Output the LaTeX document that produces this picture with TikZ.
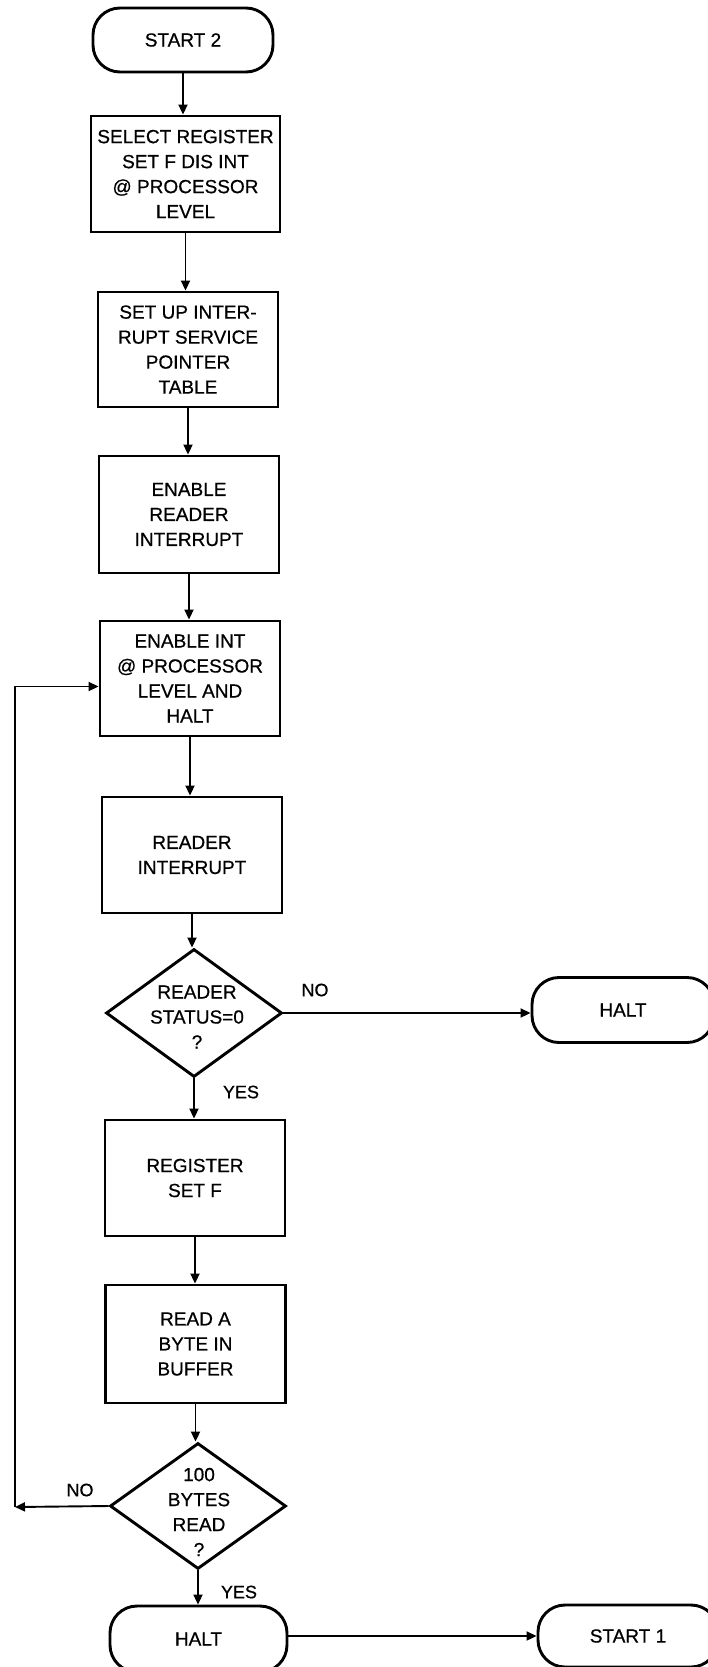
\documentclass[tikz,border=0pt]{standalone}
\usepackage{fontspec}
\setmainfont{Liberation Sans}[FakeBold=0.6]
\usetikzlibrary{shapes.geometric,arrows.meta,calc}
\begin{document}
\begin{tikzpicture}[x=1pt,y=-1pt,
  every node/.style={font=\fontsize{19}{25}\selectfont, align=center, inner sep=0pt},
  procbox/.style={draw, line width=2.9pt, minimum width=180pt, minimum height=116pt},
  term/.style={draw, line width=2.9pt, rounded corners=27pt, minimum width=180pt, minimum height=64pt},
  dia/.style={draw, diamond, line width=2.9pt, minimum width=176pt, minimum height=128pt},
  conn/.style={line width=1.9pt, -{Triangle[length=10pt,width=9pt]}},
  lbl/.style={font=\fontsize{18}{22}\selectfont}]
\fill[white] (0,0) rectangle (707,1667);
\useasboundingbox (0,0) rectangle (707,1667);

\node[term] (s2) at (183,40) {START 2};
\node[procbox, minimum width=189pt] (b1) at (185.5,174) {SELECT REGISTER\\SET F DIS INT\\@ PROCESSOR\\LEVEL};
\node[procbox, minimum height=115pt] (b2) at (188,349.5) {SET UP INTER-\\RUPT SERVICE\\POINTER\\TABLE};
\node[procbox, minimum height=117pt] (b3) at (189,514.5) {ENABLE\\READER\\INTERRUPT};
\node[procbox, minimum height=115pt] (b4) at (190,678.5) {ENABLE INT\\@ PROCESSOR\\LEVEL AND\\HALT};
\node[procbox] (b5) at (192,855) {READER\\INTERRUPT};
\node[dia] (d1) at (194,1013) {};
\node (d1t) at (197,1017) {READER\\STATUS=0\\?};
\node[term, minimum width=182pt, minimum height=65pt] (h1) at (623,1010) {HALT};
\node[procbox] (b6) at (195,1178) {REGISTER\\SET F};
\node[procbox, minimum height=118pt] (b7) at (195.5,1344) {READ A\\BYTE IN\\BUFFER};
\node[dia, minimum height=126pt] (d2) at (198,1506) {};
\node (d2t) at (199,1512) {100\\BYTES\\READ\\?};
\node[term, minimum width=177pt, minimum height=66pt] (h2) at (198.5,1639) {HALT};
\node[term, minimum height=62pt] (st1) at (628,1636) {START 1};
\coordinate (lc) at (15,1507);

\node[lbl] (no1) at (315,990) {NO};
\node[lbl] (yes1) at (241,1092) {YES};
\node[lbl] (no2) at (80,1490) {NO};
\node[lbl] (yes2) at (239,1592) {YES};

\draw[conn] (s2.south) -- (s2.south |- b1.north);
\draw[conn] (b1.south) -- (b1.south |- b2.north);
\draw[conn] (b2.south) -- (b2.south |- b3.north);
\draw[conn] (b3.south) -- (b3.south |- b4.north);
\draw[conn] (b4.south) -- (b4.south |- b5.north);
\draw[conn] (b5.south) -- (b5.south |- d1.north);
\draw[conn] (d1.east) -- (d1.east -| h1.west);
\draw[conn] (d1.south) -- (d1.south |- b6.north);
\draw[conn] (b6.south) -- (b6.south |- b7.north);
\draw[conn] (b7.south) -- (b7.south |- d2.north);
\draw[conn] (d2.west) -- (lc);
\draw[conn] (lc) |- ([yshift=-8pt]b4.west);
\draw[conn] (d2.south) -- (d2.south |- h2.north);
\draw[conn] (h2.east |- st1.west) -- (st1.west);
\end{tikzpicture}
\end{document}
